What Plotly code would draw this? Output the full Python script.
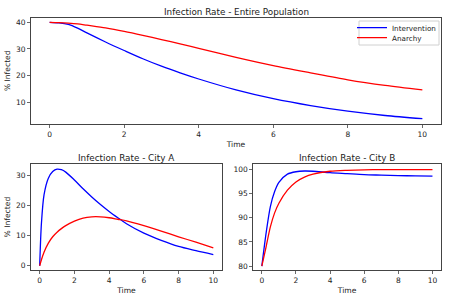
import plotly.graph_objects as go

# ---- data ----
t_all = [0, 0.25, 0.5, 0.75, 1, 1.5, 2, 2.5, 3, 3.5, 4, 5, 6, 7, 8, 9, 10]
all_intervention = [40, 39.8, 39.2, 37.8, 36.0, 32.6, 29.4, 26.3, 23.5, 21.0, 18.7, 14.6, 11.3, 8.7, 6.6, 5.0, 3.8]
all_anarchy = [40, 39.9, 39.7, 39.4, 38.9, 37.9, 36.6, 35.1, 33.5, 31.9, 30.2, 26.8, 23.7, 21.0, 18.4, 16.3, 14.6]

t_a = [0, 0.1, 0.25, 0.5, 0.75, 1, 1.25, 1.5, 2, 2.5, 3, 3.5, 4, 4.5, 5, 6, 7, 8, 9, 10]
a_intervention = [0, 14, 23.5, 29.0, 31.2, 32.0, 31.8, 31.0, 28.4, 25.5, 22.8, 20.3, 18.0, 15.9, 13.9, 10.8, 8.4, 6.4, 5.0, 3.7]
a_anarchy = [0, 2.0, 4.5, 7.5, 9.6, 11.1, 12.3, 13.3, 14.8, 15.8, 16.2, 16.2, 15.9, 15.4, 14.9, 13.3, 11.5, 9.6, 7.8, 5.9]

t_b = [0, 0.25, 0.5, 0.75, 1, 1.5, 2, 2.5, 3, 4, 5, 6, 7, 8, 9, 10]
b_intervention = [80, 86.8, 92.3, 95.4, 97.3, 99.0, 99.5, 99.65, 99.6, 99.3, 99.1, 98.9, 98.8, 98.7, 98.65, 98.6]
b_anarchy = [80, 84.0, 88.1, 91.0, 93.0, 95.7, 97.4, 98.4, 99.0, 99.6, 99.8, 99.9, 99.93, 99.95, 99.95, 99.95]

x_ticks = [0, 2, 4, 6, 8, 10]
top_y_ticks = [10, 20, 30, 40]
a_y_ticks = [0, 10, 20, 30]
b_y_ticks = [80, 85, 90, 95, 100]

BLUE = "#0000ff"
RED = "#ff0000"
FONT = "DejaVu Sans"
TXT = "#222"
TICK = 7.5
LAB = 7.6
TITLE = 8.8

fig = go.Figure()

def add(x, y, color, name, xa, ya, show, legend="legend"):
    fig.add_trace(go.Scatter(x=x, y=y, mode="lines", name=name,
                             line=dict(color=color, width=1.3, shape="spline", smoothing=0.8),
                             xaxis=xa, yaxis=ya, showlegend=show, legend=legend))

add(t_all, all_intervention, BLUE, "Intervention", "x", "y", True, "legend")
add(t_all, all_anarchy, RED, "Anarchy", "x", "y", True, "legend2")
add(t_a, a_intervention, BLUE, "Intervention", "x2", "y2", False)
add(t_a, a_anarchy, RED, "Anarchy", "x2", "y2", False)
add(t_b, b_intervention, BLUE, "Intervention", "x3", "y3", False)
add(t_b, b_anarchy, RED, "Anarchy", "x3", "y3", False)

axis_common = dict(showline=True, mirror=True, linecolor="#444", linewidth=1,
                   ticks="outside", ticklen=3, tickwidth=0.8, tickcolor="#444",
                   showgrid=False, zeroline=False, automargin=False,
                   tickfont=dict(family=FONT, size=TICK, color=TXT))

def xt():
    return dict(text="Time", font=dict(family=FONT, size=LAB, color=TXT), standoff=3)

def yt():
    return dict(text="% Infected", font=dict(family=FONT, size=LAB, color=TXT), standoff=4)

leg_common = dict(xanchor="left", yanchor="middle", bgcolor="rgba(0,0,0,0)", borderwidth=0,
                  font=dict(family=FONT, size=7.2, color=TXT), itemwidth=30,
                  tracegroupgap=0, itemclick=False, itemdoubleclick=False)

fig.update_layout(
    width=450, height=300,
    margin=dict(l=0, r=0, t=0, b=0),
    paper_bgcolor="white", plot_bgcolor="white",
    font=dict(family=FONT, size=TICK, color=TXT),
    xaxis=dict(domain=[31/450, 441/450], range=[-0.5, 10.5], tickvals=x_ticks, anchor="y",
               title=xt(), **axis_common),
    yaxis=dict(domain=[1-124/300, 1-17.5/300], range=[1.8, 41.8], tickvals=top_y_ticks, anchor="x",
               title=yt(), **axis_common),
    xaxis2=dict(domain=[31/450, 222/450], range=[-0.5, 10.5], tickvals=x_ticks, anchor="y2",
                title=xt(), **axis_common),
    yaxis2=dict(domain=[1-270/300, 1-164.3/300], range=[-1.4, 33.6], tickvals=a_y_ticks, anchor="x2",
                title=yt(), **axis_common),
    xaxis3=dict(domain=[253.3/450, 441/450], range=[-0.5, 10.5], tickvals=x_ticks, anchor="y3",
                title=xt(), **axis_common),
    yaxis3=dict(domain=[1-270/300, 1-164/300], range=[79.2, 101.1], tickvals=b_y_ticks, anchor="x3",
                **axis_common),
    legend=dict(x=352/450, y=1-27.7/300, **leg_common),
    legend2=dict(x=352/450, y=1-37.7/300, **leg_common),
    shapes=[dict(type="rect", xref="paper", yref="paper",
                 x0=359/450, x1=439/450, y0=1-45/300, y1=1-21/300,
                 line=dict(color="#d0d0d0", width=1), fillcolor="rgba(255,255,255,0.8)", layer="below")],
    annotations=[
        dict(text="Infection Rate - Entire Population", x=236/450, y=1-12/300, xref="paper", yref="paper",
             showarrow=False, font=dict(family=FONT, size=TITLE, color=TXT), xanchor="center", yanchor="middle"),
        dict(text="Infection Rate - City A", x=126.5/450, y=1-158/300, xref="paper", yref="paper",
             showarrow=False, font=dict(family=FONT, size=TITLE, color=TXT), xanchor="center", yanchor="middle"),
        dict(text="Infection Rate - City B", x=347/450, y=1-158/300, xref="paper", yref="paper",
             showarrow=False, font=dict(family=FONT, size=TITLE, color=TXT), xanchor="center", yanchor="middle"),
    ],
)

fig.write_html("out.html", config={"displayModeBar": False, "staticPlot": True},
               post_script="document.body.style.margin='0';document.body.style.overflow='hidden';")
